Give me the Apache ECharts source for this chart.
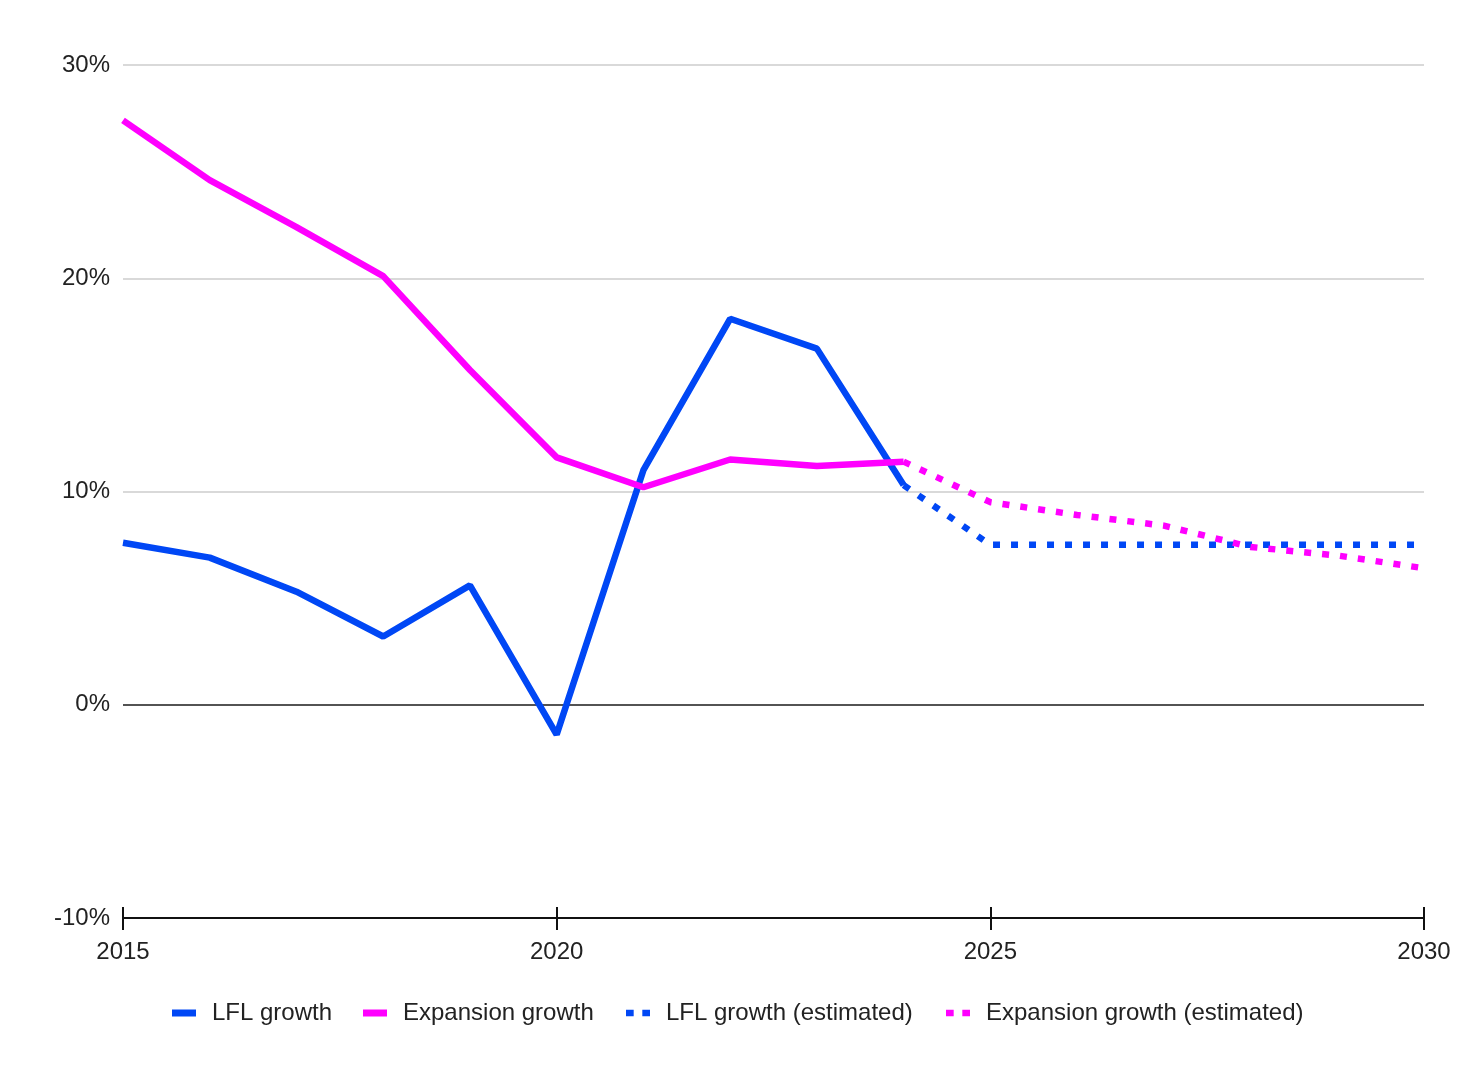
<!DOCTYPE html>
<html>
<head>
<meta charset="utf-8">
<script src="https://cdn.jsdelivr.net/npm/echarts@6/dist/echarts.min.js"></script>
<style>html,body{margin:0;padding:0;background:#fff;}#c{width:1477px;height:1080px;}</style>
</head>
<body>
<div id="c"></div>
<script>
const years = [2015, 2016, 2017, 2018, 2019, 2020, 2021, 2022, 2023, 2024];
const lflGrowth = [7.6, 6.9, 5.3, 3.2, 5.6, -1.4, 11.0, 18.1, 16.7, 10.3];
const expansionGrowth = [27.4, 24.6, 22.4, 20.1, 15.7, 11.6, 10.2, 11.5, 11.2, 11.4];
const estYears = [2024, 2025, 2026, 2027, 2028, 2029, 2030];
const lflEst = [10.3, 7.5, 7.5, 7.5, 7.5, 7.5, 7.5];
const expansionEst = [11.4, 9.5, 8.9, 8.4, 7.4, 7.0, 6.4];
const seriesNames = ['LFL growth', 'Expansion growth', 'LFL growth (estimated)', 'Expansion growth (estimated)'];

const BLUE = '#0047f5', MAGENTA = '#ff00ff';
const FONT = 'Liberation Sans, Arial, sans-serif';
const FS = 24;
const pair = (xs, ys) => xs.map((x, i) => [x, ys[i]]);

const chart = echarts.init(document.getElementById('c'));
const dotIcon = 'path://M0,0h8v7h-8z M17,0h8v7h-8z';
function legend(name, left, icon) {
  return {
    data: [name], left: left, top: 1001, padding: 0, itemWidth: 24, itemHeight: 7, icon: icon,
    selectedMode: false,
    textStyle: { fontFamily: FONT, fontSize: FS, color: '#222', padding: [0, 0, 0, 11] }
  };
}
const xBase = { type: 'value', min: 2015, max: 2030, interval: 5, gridIndex: 0, position: 'bottom' };
chart.setOption({
  animation: false,
  backgroundColor: '#fff',
  grid: { left: 123, right: 53, top: 65, bottom: 162, containLabel: false },
  legend: [
    legend(seriesNames[0], 172, 'rect'),
    legend(seriesNames[1], 363, 'rect'),
    legend(seriesNames[2], 626, dotIcon),
    legend(seriesNames[3], 946, dotIcon)
  ],
  xAxis: [
    Object.assign({}, xBase, {
      axisLine: { show: true, onZero: false, lineStyle: { color: '#111', width: 2 } },
      axisTick: { show: true, inside: false, length: 12, lineStyle: { color: '#111', width: 2 } },
      axisLabel: { fontFamily: FONT, fontSize: FS, color: '#222', margin: 22, formatter: v => String(v) },
      splitLine: { show: false }
    }),
    Object.assign({}, xBase, {
      axisLine: { show: false, onZero: false },
      axisTick: { show: true, inside: true, length: 11, lineStyle: { color: '#111', width: 2 } },
      axisLabel: { show: false },
      splitLine: { show: false }
    })
  ],
  yAxis: {
    type: 'value', min: -10, max: 30, interval: 10,
    axisLine: { show: false }, axisTick: { show: false },
    axisLabel: { formatter: '{value}%', fontFamily: FONT, fontSize: FS, color: '#222', margin: 13 },
    splitLine: { show: true, lineStyle: { color: ['#cccccc', '#1a1a1a', '#cccccc', '#cccccc', '#cccccc'], width: 1.5 } }
  },
  series: [
    { name: seriesNames[0], type: 'line', data: pair(years, lflGrowth), symbol: 'none', color: BLUE,
      lineStyle: { color: BLUE, width: 6.5 }, z: 3 },
    { name: seriesNames[1], type: 'line', data: pair(years, expansionGrowth), symbol: 'none', color: MAGENTA,
      lineStyle: { color: MAGENTA, width: 6.5 }, z: 4 },
    { name: seriesNames[2], type: 'line', data: pair(estYears, lflEst), symbol: 'none', color: BLUE,
      lineStyle: { color: BLUE, width: 6.5, type: [7, 11], cap: 'butt' }, z: 3 },
    { name: seriesNames[3], type: 'line', data: pair(estYears, expansionEst), symbol: 'none', color: MAGENTA,
      lineStyle: { color: MAGENTA, width: 6.5, type: [7, 11], cap: 'butt' }, z: 4 }
  ]
});
</script>
</body>
</html>
